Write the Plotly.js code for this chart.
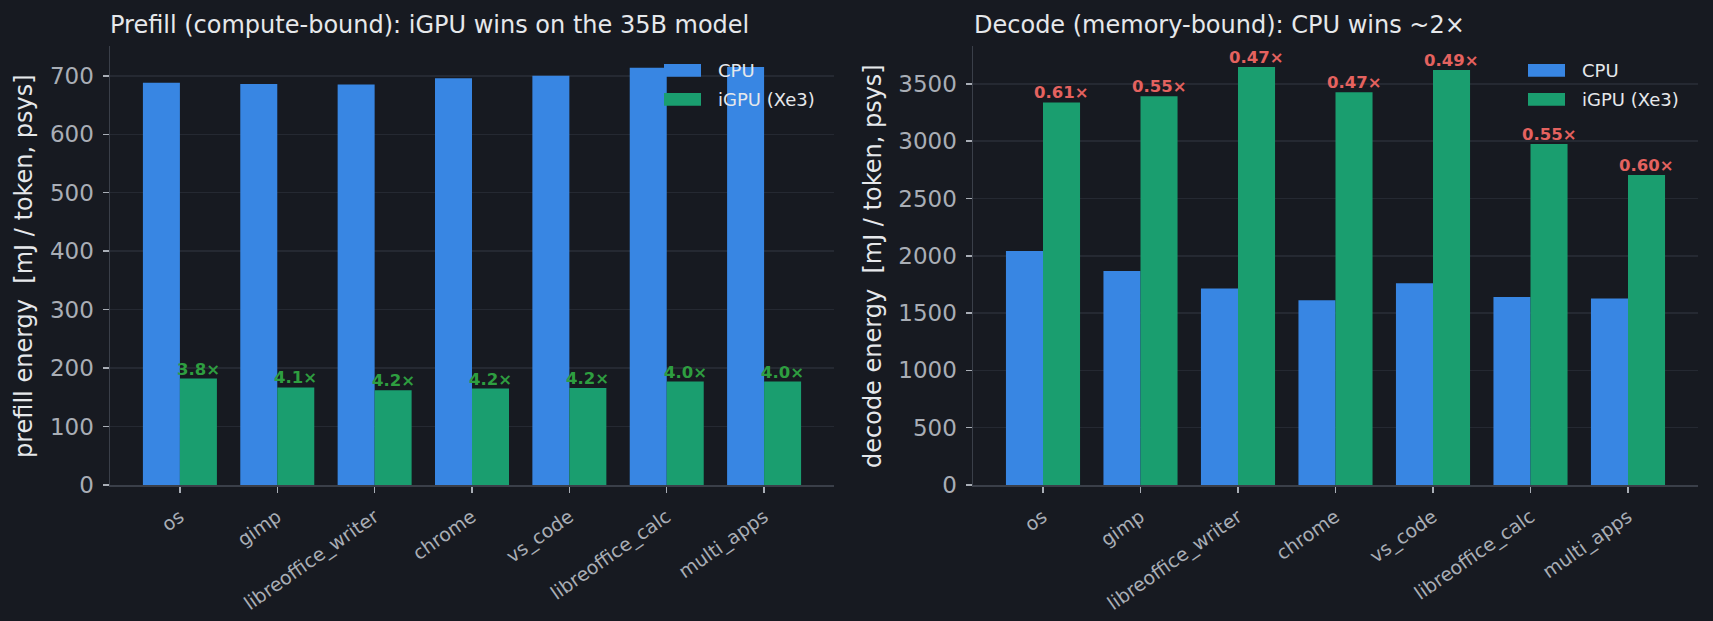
<!DOCTYPE html>
<html>
<head>
<meta charset="utf-8">
<script src="https://cdn.plot.ly/plotly-3.0.1.min.js"></script>
<style>
html,body{margin:0;padding:0;background:#171a21;overflow:hidden}
#chart{width:1713px;height:621px}
</style>
</head>
<body>
<div id="chart"></div>
<script>
// ---- data ----
const categories = ['os','gimp','libreoffice_writer','chrome','vs_code','libreoffice_calc','multi_apps'];
const prefillCPU  = [688, 686, 685, 696, 700, 714, 715];
const prefillIGPU = [182, 167, 162, 165, 166, 177, 177];
const decodeCPU   = [2041, 1866, 1715, 1612, 1760, 1640, 1628];
const decodeIGPU  = [3338, 3391, 3647, 3427, 3621, 2975, 2705];
const seriesNames = ['CPU', 'iGPU (Xe3)'];
const titles = ['Prefill (compute-bound): iGPU wins on the 35B model', 'Decode (memory-bound): CPU wins ~2\u00d7'];
const yTitles = ['prefill energy  [mJ / token, psys]', 'decode energy  [mJ / token, psys]'];

// ---- style ----
const W = 1713, H = 621;
const fx = x => x / W;
const fy = y => 1 - y / H;
const FONT = 'DejaVu Sans, sans-serif';
const BG = '#171a21';
const BLUE = '#3886e3';
const GREEN = '#1a9e6f';
const GRID = '#252932';
const SPINE = '#3a3f49';
const TICKC = '#a9aeb6';
const TEXTC = '#e6e8eb';
const BARW = 0.38;

function bars(vals, name, color, xa, ya, off) {
  return {type: 'bar', x: categories, y: vals, name: name, xaxis: xa, yaxis: ya,
    width: BARW, offset: off, marker: {color: color, line: {width: 0}},
    showlegend: false, hoverinfo: 'skip'};
}

const data = [
  bars(prefillCPU, seriesNames[0], BLUE, 'x', 'y', -BARW),
  bars(prefillIGPU, seriesNames[1], GREEN, 'x', 'y', 0),
  bars(decodeCPU, seriesNames[0], BLUE, 'x2', 'y2', -BARW),
  bars(decodeIGPU, seriesNames[1], GREEN, 'x2', 'y2', 0)
];

function xaxis(dom, anchor) {
  return {type: 'category', categoryorder: 'array', categoryarray: categories,
    range: [-0.718, categories.length - 1 + 0.718], domain: dom, anchor: anchor,
    showline: true, linecolor: SPINE, linewidth: 1.5, showgrid: false, zeroline: false,
    ticks: 'outside', ticklen: 6, tickwidth: 1.5, tickcolor: TICKC, tickangle: -35,
    ticklabelstandoff: 6,
    tickfont: {family: FONT, size: 19, color: TICKC}, automargin: false, fixedrange: true};
}
function yaxis(rng, dt, anchor) {
  return {range: rng, dtick: dt, tick0: 0, domain: [fy(485), fy(46)], anchor: anchor,
    showline: true, linecolor: SPINE, linewidth: 1.5, showgrid: true, gridcolor: GRID, gridwidth: 1.5,
    zeroline: false, ticks: 'outside', ticklen: 6, tickwidth: 1.5, tickcolor: TICKC,
    ticklabelstandoff: 4,
    tickfont: {family: FONT, size: 23, color: TICKC}, automargin: false, fixedrange: true};
}

const annotations = [];
// panel titles
annotations.push({xref: 'paper', yref: 'paper', x: fx(108), y: fy(25), xanchor: 'left', yanchor: 'middle',
  text: titles[0], showarrow: false, font: {family: FONT, size: 24, color: TEXTC}});
annotations.push({xref: 'paper', yref: 'paper', x: fx(972), y: fy(25), xanchor: 'left', yanchor: 'middle',
  text: titles[1], showarrow: false, font: {family: FONT, size: 24, color: TEXTC}});
// y titles
annotations.push({xref: 'paper', yref: 'paper', x: fx(24), y: fy(266), xanchor: 'center', yanchor: 'middle',
  textangle: -90, text: yTitles[0], showarrow: false, font: {family: FONT, size: 24, color: TEXTC}});
annotations.push({xref: 'paper', yref: 'paper', x: fx(873), y: fy(266), xanchor: 'center', yanchor: 'middle',
  textangle: -90, text: yTitles[1], showarrow: false, font: {family: FONT, size: 24, color: TEXTC}});
// ratio labels
categories.forEach((c, i) => {
  annotations.push({xref: 'x', yref: 'y', x: i + BARW / 2, y: prefillIGPU[i], xanchor: 'center', yanchor: 'bottom',
    yshift: -2, text: (prefillCPU[i] / prefillIGPU[i]).toFixed(1) + '\u00d7', showarrow: false,
    font: {family: FONT, size: 16.5, color: '#2e9e40', weight: 'bold'}});
  annotations.push({xref: 'x2', yref: 'y2', x: i + BARW / 2, y: decodeIGPU[i], xanchor: 'center', yanchor: 'bottom',
    yshift: -2, text: (decodeCPU[i] / decodeIGPU[i]).toFixed(2) + '\u00d7', showarrow: false,
    font: {family: FONT, size: 16.5, color: '#e5625f', weight: 'bold'}});
});

// manual legends
const shapes = [];
const legends = [{sx: 664, tx: 716}, {sx: 1528, tx: 1580}];
const legendColors = [BLUE, GREEN];
const rowTop = [64, 93];
legends.forEach(L => {
  seriesNames.forEach((n, k) => {
    shapes.push({type: 'rect', xref: 'paper', yref: 'paper', layer: 'above',
      x0: fx(L.sx), x1: fx(L.sx + 37), y0: fy(rowTop[k] + 12.7), y1: fy(rowTop[k]),
      fillcolor: legendColors[k], line: {width: 0}});
    annotations.push({xref: 'paper', yref: 'paper', x: fx(L.tx), y: fy(rowTop[k] + 6.5), xanchor: 'left', yanchor: 'middle',
      text: n, showarrow: false, font: {family: FONT, size: 18, color: TEXTC}});
  });
});

const layout = {
  width: W, height: H,
  margin: {l: 0, r: 0, t: 0, b: 0, pad: 0},
  paper_bgcolor: BG, plot_bgcolor: BG,
  font: {family: FONT, color: TEXTC},
  showlegend: false,
  xaxis: xaxis([fx(110), fx(834)], 'y'),
  yaxis: yaxis([0, 751], 100, 'x'),
  xaxis2: xaxis([fx(973), fx(1698)], 'y2'),
  yaxis2: yaxis([0, 3830], 500, 'x2'),
  annotations: annotations,
  shapes: shapes
};

Plotly.newPlot('chart', data, layout, {displayModeBar: false, staticPlot: true});
</script>
</body>
</html>
